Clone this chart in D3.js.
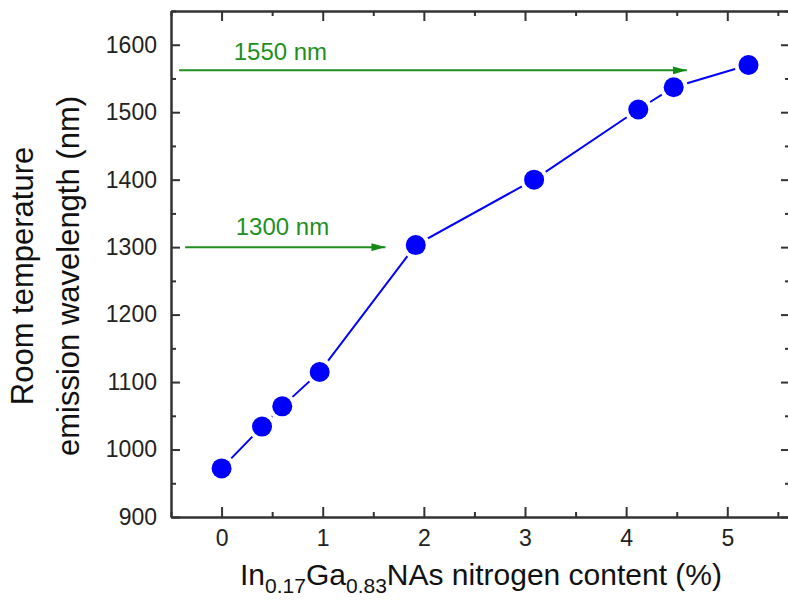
<!DOCTYPE html>
<html>
<head>
<meta charset="utf-8">
<script src="https://cdn.jsdelivr.net/npm/d3@7"></script>
<style>
  html, body { margin: 0; padding: 0; background: #fff; }
  svg { display: block; font-family: "Liberation Sans", Arial, sans-serif; }
</style>
</head>
<body>
<svg id="chart" width="788" height="602"></svg>
<script>
// ---- data ----
const nitrogen = [0, 0.4, 0.6, 0.97, 1.92, 3.09, 4.12, 4.47, 5.21];
const wavelength = [972, 1034, 1064, 1115, 1303, 1400, 1504, 1537, 1570];
const xTicks = [0, 1, 2, 3, 4, 5];
const yTicks = [900, 1000, 1100, 1200, 1300, 1400, 1500, 1600];
const arrowLabels = ["1550 nm", "1300 nm"];
const arrowY = [1562, 1300];
const arrowX0 = [-0.42, -0.36];
const arrowX1 = [4.6, 1.62];
const labelX = [0.12, 0.14];
const labelY = [1578, 1318];

// ---- layout ----
const svg = d3.select("#chart");
const mLeft = 171, mRight = 790, mTop = 11, mBottom = 517;
const x = d3.scaleLinear().domain([-0.5, 5.62]).range([mLeft, mRight]);
const y = d3.scaleLinear().domain([900, 1650]).range([mBottom, mTop]);
const axisColor = "#333";

const xMinor = d3.range(-0.5, 5.61, 0.5);
const yMinor = d3.range(900, 1651, 50);

function styleAxis(g) {
  g.selectAll("path.domain").attr("stroke", axisColor).attr("stroke-width", 2);
  g.selectAll(".tick line").attr("stroke", axisColor).attr("stroke-width", 2);
}

const axes = [
  {gen: d3.axisBottom(x).tickValues(xMinor.filter(v => !xTicks.includes(v))).tickSize(-5).tickFormat(""), t: `translate(0,${mBottom})`},
  {gen: d3.axisTop(x).tickValues(xMinor.filter(v => !xTicks.includes(v))).tickSize(-5).tickFormat(""), t: `translate(0,${mTop})`},
  {gen: d3.axisLeft(y).tickValues(yMinor.filter(v => !yTicks.includes(v))).tickSize(-5).tickFormat(""), t: `translate(${mLeft},0)`},
  {gen: d3.axisRight(y).tickValues(yMinor.filter(v => !yTicks.includes(v))).tickSize(-5).tickFormat(""), t: `translate(${mRight},0)`},
  {gen: d3.axisTop(x).tickValues(xTicks).tickSize(-10).tickFormat(""), t: `translate(0,${mTop})`},
  {gen: d3.axisRight(y).tickValues(yTicks).tickSize(-9).tickFormat(""), t: `translate(${mRight},0)`},
];
axes.forEach(a => {
  const g = svg.append("g").attr("transform", a.t).call(a.gen.tickSizeOuter(0));
  styleAxis(g);
});

const gx = svg.append("g").attr("transform", `translate(0,${mBottom})`)
  .call(d3.axisBottom(x).tickValues(xTicks).tickSize(-10).tickSizeOuter(0).tickPadding(18).tickFormat(d3.format("d")));
styleAxis(gx);
gx.selectAll(".tick text").attr("font-size", 23).attr("fill", "#222")
  .attr("font-family", "Liberation Sans, Arial, sans-serif").attr("dy", "0.71em").attr("y", 13);

const gy = svg.append("g").attr("transform", `translate(${mLeft},0)`)
  .call(d3.axisLeft(y).tickValues(yTicks).tickSize(-9).tickSizeOuter(0).tickPadding(0).tickFormat(d3.format("d")));
styleAxis(gy);
gy.selectAll(".tick text").attr("font-size", 23).attr("fill", "#222")
  .attr("font-family", "Liberation Sans, Arial, sans-serif").attr("x", -14);

// ---- data series ----
const pts = nitrogen.map((v, i) => [v, wavelength[i]]);
svg.append("path").datum(pts)
  .attr("fill", "none").attr("stroke", "#0000ff").attr("stroke-width", 2)
  .attr("d", d3.line().x(d => x(d[0])).y(d => y(d[1])));
svg.append("g").selectAll("circle").data(pts).join("circle")
  .attr("cx", d => x(d[0])).attr("cy", d => y(d[1])).attr("r", 14).attr("fill", "#fff");
svg.append("g").selectAll("circle").data(pts).join("circle")
  .attr("cx", d => x(d[0])).attr("cy", d => y(d[1])).attr("r", 10).attr("fill", "#0000ff");

// ---- arrows ----
const green = "#1f8f1f";
svg.append("defs").append("marker")
  .attr("id", "ah").attr("viewBox", "0 0 14 8").attr("refX", 14).attr("refY", 4)
  .attr("markerWidth", 14).attr("markerHeight", 8).attr("markerUnits", "userSpaceOnUse")
  .attr("orient", "auto")
  .append("path").attr("d", "M0,0 L14,4 L0,8 Z").attr("fill", "#138a13");
arrowLabels.forEach((lab, i) => {
  svg.append("line")
    .attr("x1", x(arrowX0[i])).attr("x2", x(arrowX1[i]))
    .attr("y1", y(arrowY[i])).attr("y2", y(arrowY[i]))
    .attr("stroke", green).attr("stroke-width", 2).attr("marker-end", "url(#ah)");
  svg.append("text").attr("x", x(labelX[i])).attr("y", y(labelY[i]))
    .attr("font-size", 24).attr("fill", green).text(lab);
});

// ---- axis titles ----
const xt = svg.append("text").attr("x", 481).attr("y", 585).attr("text-anchor", "middle")
  .attr("font-size", 30).attr("fill", "#111");
xt.append("tspan").text("In");
xt.append("tspan").attr("font-size", 21).attr("dy", 8).text("0.17");
xt.append("tspan").attr("dy", -8).text("Ga");
xt.append("tspan").attr("font-size", 21).attr("dy", 8).text("0.83");
xt.append("tspan").attr("dy", -8).text("NAs nitrogen content (%)");

const yt = svg.append("text").attr("transform", "translate(33,276) rotate(-90)")
  .attr("text-anchor", "middle").attr("font-size", 31).attr("fill", "#111");
yt.append("tspan").attr("x", 0).attr("y", 0).text("Room temperature");
yt.append("tspan").attr("x", 0).attr("y", 46).text("emission wavelength (nm)");
</script>
</body>
</html>
